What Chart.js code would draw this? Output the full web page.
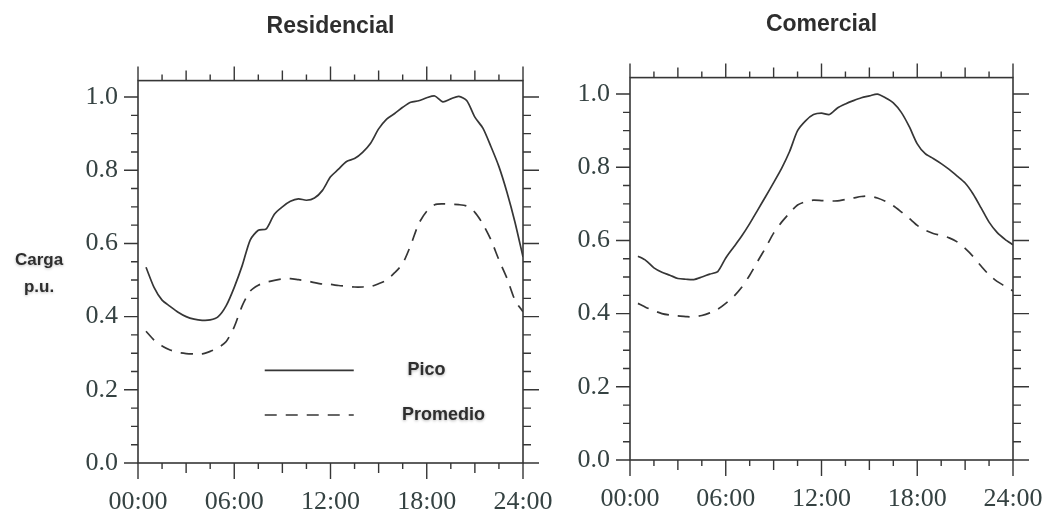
<!DOCTYPE html>
<html>
<head>
<meta charset="utf-8">
<script src="https://cdn.jsdelivr.net/npm/chart.js@4.4.0/dist/chart.umd.min.js"></script>
<style>
    html, body { margin: 0; padding: 0; background: #fff; }
    #wrap { position: relative; width: 1048px; height: 510px; overflow: hidden; }
    .panel { position: absolute; top: 0; height: 510px; }
    #res-panel { left: 0; width: 560px; }
    #com-panel { left: 560px; width: 488px; }
    #carga {
        position: absolute; left: 0; top: 246px; width: 78px;
        text-align: center; color: #2e2e2e;
        font: bold 17px "Liberation Sans", Arial, sans-serif; line-height: 27px;
        text-shadow: 0 1px 3px rgba(0,0,0,0.25);
    }
</style>
</head>
<body>
<div id="wrap">
    <div class="panel" id="res-panel"><canvas id="residencial"></canvas></div>
    <div class="panel" id="com-panel"><canvas id="comercial"></canvas></div>
    <div id="carga">Carga<br>p.u.</div>
</div>
<script>
// horas del día (cada media hora)
const hours = [0.5, 1, 1.5, 2, 2.5, 3, 3.5, 4, 4.5, 5, 5.5, 6, 6.5, 7, 7.5, 8, 8.5, 9, 9.5, 10, 10.5, 11, 11.5, 12,
               12.5, 13, 13.5, 14, 14.5, 15, 15.5, 16, 16.5, 17, 17.5, 18, 18.5, 19, 19.5, 20, 20.5, 21, 21.5, 22, 22.5, 23, 23.5, 24];

const seriesNames = ['Pico', 'Promedio'];
const chartTitles = ['Residencial', 'Comercial'];

// Residencial
const resPico = [0.535, 0.48, 0.445, 0.428, 0.412, 0.400, 0.393, 0.390, 0.391, 0.400, 0.430, 0.480, 0.540, 0.610, 0.636, 0.640,
                 0.680, 0.700, 0.715, 0.722, 0.718, 0.724, 0.745, 0.782, 0.803, 0.824, 0.832, 0.849, 0.874, 0.913, 0.940, 0.955,
                 0.972, 0.986, 0.990, 0.998, 1.003, 0.987, 0.995, 1.002, 0.990, 0.945, 0.915, 0.865, 0.810, 0.740, 0.658, 0.563];
const resPromedio = [0.360, 0.336, 0.320, 0.309, 0.302, 0.299, 0.298, 0.298, 0.305, 0.315, 0.332, 0.372, 0.430, 0.470, 0.486, 0.494,
                     0.499, 0.503, 0.504, 0.501, 0.498, 0.493, 0.489, 0.488, 0.485, 0.483, 0.481, 0.481, 0.482, 0.490, 0.500, 0.520,
                     0.545, 0.595, 0.654, 0.688, 0.706, 0.708, 0.707, 0.706, 0.702, 0.685, 0.653, 0.610, 0.555, 0.505, 0.445, 0.413];

// Comercial
const comPico = [0.557, 0.545, 0.525, 0.513, 0.505, 0.496, 0.494, 0.493, 0.500, 0.508, 0.515, 0.552, 0.582, 0.612, 0.646, 0.683,
                 0.720, 0.758, 0.797, 0.843, 0.900, 0.927, 0.944, 0.948, 0.944, 0.962, 0.973, 0.982, 0.990, 0.995, 1.000, 0.990,
                 0.976, 0.950, 0.911, 0.864, 0.837, 0.824, 0.810, 0.794, 0.776, 0.757, 0.727, 0.689, 0.650, 0.622, 0.603, 0.588];
const comPromedio = [0.428, 0.417, 0.408, 0.400, 0.396, 0.394, 0.392, 0.391, 0.395, 0.402, 0.412, 0.428, 0.447, 0.472, 0.505, 0.543,
                     0.580, 0.620, 0.650, 0.675, 0.697, 0.706, 0.710, 0.709, 0.708, 0.708, 0.712, 0.716, 0.720, 0.721, 0.716, 0.707,
                     0.695, 0.678, 0.660, 0.641, 0.628, 0.619, 0.614, 0.607, 0.596, 0.578, 0.556, 0.530, 0.506, 0.488, 0.475, 0.462];

const xTickHours = [0, 6, 12, 18, 24];
const xTickLabels = ['00:00', '06:00', '12:00', '18:00', '24:00'];
const yTicks = [0, 0.2, 0.4, 0.6, 0.8, 1.0];

const lineColor = '#363636';
const labelColor = '#354242';
const serif = '"Liberation Serif", "Times New Roman", serif';
const sans = '"Liberation Sans", Arial, sans-serif';

// marco con marcas hacia fuera (mayores, medias y menores)
const framePlugin = {
    id: 'frame',
    afterDraw(chart) {
        const { ctx, chartArea: a, scales: { x, y } } = chart;
        ctx.save();
        ctx.strokeStyle = lineColor;
        ctx.lineWidth = 1.6;
        ctx.strokeRect(a.left, a.top, a.width, a.height);
        ctx.lineWidth = 1.4;
        ctx.beginPath();
        for (let i = 0; i <= 16; i++) {
            const px = x.getPixelForValue(i * 1.5);
            const major = i % 4 === 0, mid = i % 2 === 0;
            const down = major ? 16 : (mid ? 10 : 6);
            const up = major ? 14 : (mid ? 10 : 6);
            ctx.moveTo(px, a.bottom); ctx.lineTo(px, a.bottom + down);
            ctx.moveTo(px, a.top); ctx.lineTo(px, a.top - up);
        }
        for (let i = 0; i <= 20; i++) {
            const py = y.getPixelForValue(i * 0.05);
            const major = i % 4 === 0;
            ctx.moveTo(a.left, py); ctx.lineTo(a.left - (major ? 14 : 7), py);
            ctx.moveTo(a.right, py); ctx.lineTo(a.right + (major ? 16 : 8), py);
        }
        ctx.stroke();
        ctx.restore();
    }
};

// leyenda dentro del área (solo Residencial)
const legendPlugin = {
    id: 'innerLegend',
    afterDraw(chart, args, opts) {
        if (!opts.show) return;
        const { ctx, scales: { x, y } } = chart;
        const rows = [
            { y: 0.253, dash: [], textAt: 16.8 },
            { y: 0.131, dash: [12, 9], textAt: 16.45 }
        ];
        ctx.save();
        rows.forEach((r, i) => {
            const py = y.getPixelForValue(r.y);
            ctx.strokeStyle = lineColor;
            ctx.lineWidth = 1.6;
            ctx.setLineDash(r.dash);
            ctx.beginPath();
            ctx.moveTo(x.getPixelForValue(7.9), py);
            ctx.lineTo(x.getPixelForValue(13.45), py);
            ctx.stroke();
            ctx.setLineDash([]);
            ctx.font = 'bold 18px ' + sans;
            ctx.fillStyle = '#2e2e2e';
            ctx.textBaseline = 'middle';
            ctx.shadowColor = 'rgba(0,0,0,0.3)';
            ctx.shadowBlur = 3;
            ctx.shadowOffsetY = 1;
            ctx.fillText(seriesNames[i], x.getPixelForValue(r.textAt), py);
            ctx.shadowBlur = 0;
            ctx.shadowOffsetY = 0;
        });
        ctx.restore();
    }
};

function makeChart(id, title, pico, promedio, dims) {
    const ctx = document.getElementById(id);
    const toPoints = vals => hours.map((h, i) => ({ x: h, y: vals[i] }));
    return new Chart(ctx, {
        type: 'line',
        data: {
            datasets: [{
                label: seriesNames[0],
                data: toPoints(pico),
                borderColor: lineColor,
                borderWidth: 1.7,
                pointRadius: 0,
                tension: 0.25
            }, {
                label: seriesNames[1],
                data: toPoints(promedio),
                borderColor: lineColor,
                borderWidth: 1.7,
                borderDash: [12, 9],
                pointRadius: 0,
                tension: 0.25
            }]
        },
        options: {
            responsive: true,
            maintainAspectRatio: false,
            animation: false,
            layout: { padding: { left: 0, right: dims.right, top: 0, bottom: 0 } },
            plugins: {
                legend: { display: false },
                tooltip: { enabled: false },
                title: {
                    display: true,
                    text: title,
                    fullSize: false,
                    color: '#2e2e2e',
                    font: { family: sans, size: 23, weight: 'bold' },
                    padding: { top: dims.titleTop, bottom: dims.titleBottom }
                },
                innerLegend: { show: dims.legend }
            },
            scales: {
                x: {
                    type: 'linear',
                    min: 0,
                    max: 24,
                    grid: { display: false, drawTicks: false },
                    border: { display: false },
                    afterBuildTicks: s => { s.ticks = xTickHours.map(v => ({ value: v })); },
                    afterFit: s => {
                        s.height = dims.xHeight;
                        s.paddingLeft = 0;
                        s.paddingRight = 0;
                    },
                    ticks: {
                        autoSkip: false,
                        maxRotation: 0,
                        padding: 24,
                        color: labelColor,
                        font: { family: serif, size: 26 },
                        callback: v => xTickLabels[xTickHours.indexOf(v)]
                    }
                },
                y: {
                    min: 0,
                    max: 1.045,
                    grid: { display: false, drawTicks: false },
                    border: { display: false },
                    afterBuildTicks: s => { s.ticks = yTicks.map(v => ({ value: v })); },
                    afterFit: s => {
                        s.width = dims.yWidth;
                        s.paddingTop = 0;
                        s.paddingBottom = 0;
                    },
                    ticks: {
                        padding: 20,
                        color: labelColor,
                        font: { family: serif, size: 26 },
                        callback: v => v.toFixed(1)
                    }
                }
            }
        },
        plugins: [framePlugin, legendPlugin]
    });
}

document.addEventListener('DOMContentLoaded', function() {
    makeChart('residencial', chartTitles[0], resPico, resPromedio,
        { yWidth: 138, right: 37, xHeight: 47, titleTop: 13, titleBottom: 40, legend: true });
    makeChart('comercial', chartTitles[1], comPico, comPromedio,
        { yWidth: 70, right: 35, xHeight: 50, titleTop: 11, titleBottom: 39, legend: false });
});
</script>
</body>
</html>
